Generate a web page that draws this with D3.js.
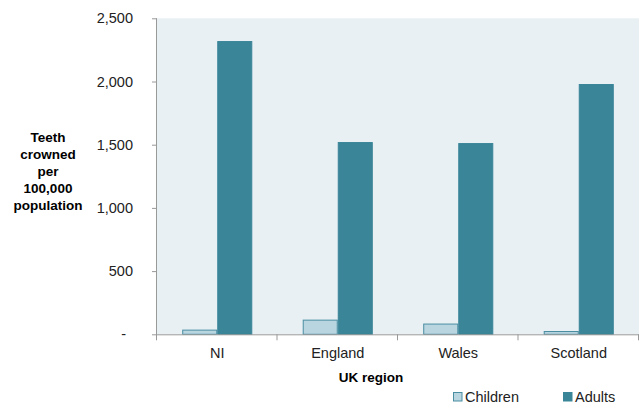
<!DOCTYPE html>
<html>
<head>
<meta charset="utf-8">
<script src="https://cdn.jsdelivr.net/npm/d3@7"></script>
<style>
  html, body { margin: 0; padding: 0; background: #fff; }
  svg { display: block; }
  text { font-family: "Liberation Sans", Arial, sans-serif; }
</style>
</head>
<body>
<svg id="chart" width="640" height="408"></svg>
<script>
const categories = ["NI", "England", "Wales", "Scotland"];
const seriesNames = ["Children", "Adults"];
const children = [37, 116, 85, 26];
const adults = [2320, 1521, 1513, 1980];
const yTicks = [0, 500, 1000, 1500, 2000, 2500];

const colors = { Children: "#b8d5e0", Adults: "#3a8598" };
const strokes = { Children: "#4a8ea2", Adults: "#3a8598" };

const svg = d3.select("#chart");
const plotL = 157, plotR = 639, plotT = 18.3, plotB = 334.3;

const x = d3.scaleBand().domain(categories).range([plotL, plotR]).paddingInner(0).paddingOuter(0);
const xs = d3.scaleBand().domain(seriesNames).range([0, x.bandwidth()]).paddingInner(0).paddingOuter(0.72);
const y = d3.scaleLinear().domain([0, 2500]).range([plotB, plotT]);

// plot background
svg.append("rect").attr("x", plotL).attr("y", plotT).attr("width", plotR - plotL).attr("height", plotB - plotT).attr("fill", "#e8f0f4");

const data = categories.map((c, i) => ({ cat: c, Children: children[i], Adults: adults[i] }));

const g = svg.append("g");
g.selectAll("g.grp").data(data).join("g")
  .attr("transform", d => `translate(${x(d.cat)},0)`)
  .selectAll("rect").data(d => seriesNames.map(s => ({ s, v: d[s] }))).join("rect")
  .attr("x", d => xs(d.s) + 0.5)
  .attr("y", d => y(d.v) + 0.5)
  .attr("width", xs.bandwidth() - 1)
  .attr("height", d => plotB - y(d.v) - 0.5)
  .attr("fill", d => colors[d.s])
  .attr("stroke", d => strokes[d.s])
  .attr("stroke-width", 1);

// y axis
const yAxis = d3.axisLeft(y).tickValues(yTicks).tickSize(5).tickPadding(19)
  .tickFormat(d => d === 0 ? "-" : d3.format(",")(d));
const ya = svg.append("g").attr("transform", `translate(${plotL},0)`).call(yAxis);
ya.select(".domain").attr("d", `M-0.5,${plotT}V${plotB + 5}`).attr("stroke", "#999");
ya.selectAll(".tick line").attr("stroke", "#999");
ya.selectAll(".tick text").attr("font-size", 14.5).attr("fill", "#222")
  .attr("font-family", "Liberation Sans, Arial, sans-serif")
  .attr("dx", d => d === 0 ? -7 : 0);

// x axis
const xAxis = d3.axisBottom(x).tickSize(0).tickPadding(13);
const xa = svg.append("g").attr("transform", `translate(0,${plotB})`).call(xAxis);
xa.select(".domain").attr("d", `M${plotL},0.5H${plotR}`).attr("stroke", "#999");
xa.selectAll(".tick text").attr("font-size", 14.5).attr("fill", "#222")
  .attr("font-family", "Liberation Sans, Arial, sans-serif");
// category boundary ticks
const bounds = categories.map(c => x(c)).concat([plotR]);
xa.selectAll("line.bound").data(bounds).join("line").attr("class", "bound")
  .attr("x1", d => d - 0.5).attr("x2", d => d - 0.5).attr("y1", 0).attr("y2", 6).attr("stroke", "#999");

// y title
const yTitle = ["Teeth", "crowned", "per", "100,000", "population"];
svg.append("text").attr("text-anchor", "middle").attr("font-weight", "bold").attr("font-size", 13.5).attr("fill", "#000")
  .selectAll("tspan").data(yTitle).join("tspan")
  .attr("x", 48).attr("y", (d, i) => 141.5 + i * 17).text(d => d);

// x title
svg.append("text").attr("x", 371).attr("y", 381.5).attr("text-anchor", "middle")
  .attr("font-weight", "bold").attr("font-size", 13.5).attr("fill", "#000").text("UK region");

// legend
const legendX = [453, 563];
const lg = svg.append("g");
seriesNames.forEach((s, i) => {
  lg.append("rect").attr("x", legendX[i] + 0.5).attr("y", 392.5).attr("width", 8.5).attr("height", 8.5)
    .attr("fill", colors[s]).attr("stroke", strokes[s]);
  lg.append("text").attr("x", legendX[i] + 12).attr("y", 402).attr("font-size", 14.5).attr("fill", "#222").text(s);
});
</script>
</body>
</html>
